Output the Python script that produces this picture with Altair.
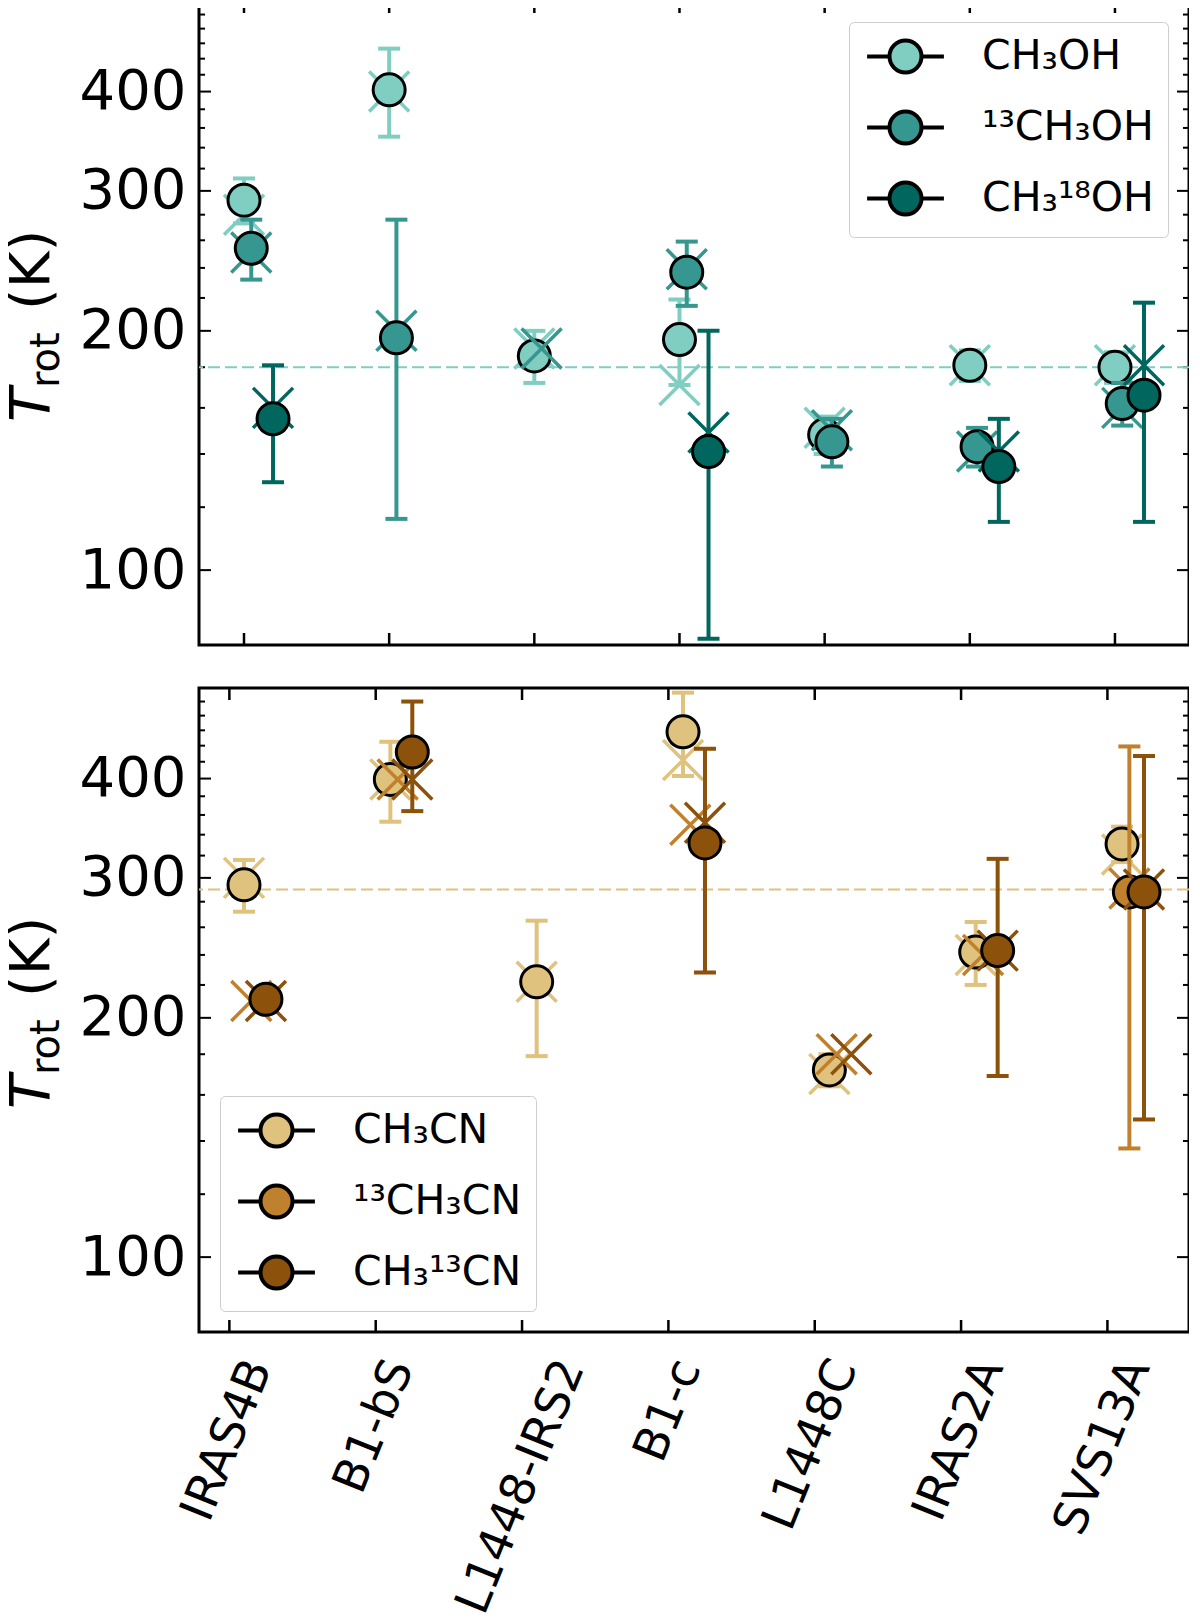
import altair as alt
import pandas as pd

sources = ["IRAS4B", "B1-bS", "L1448-IRS2", "B1-c", "L1448C", "IRAS2A", "SVS13A"]

# methanol isotopologues (top panel): T_rot, error, cross value
ch3oh_t = [292, 402, 186, 195, 148, 181, 180]
ch3oh_err = [19, 51, 14, 24, 8, 8, 8]
ch3oh_cross = [280, 400, 190, 171, 151, 181, 181]
c13h3oh_t = [254, 196, None, 237, 145, 143, 162]
c13h3oh_err = [22, 80, None, 22, 10, 8, 10]
c13h3oh_cross = [251, 200, 190, 239, 150, 141, 160]
ch3o18h_t = [155, None, None, 141, None, 135, 166]
ch3o18h_err = [26, None, None, 59, None, 20, 51]
ch3o18h_cross = [160, None, None, 149, None, 141, 181]

# methyl cyanide isotopologues (bottom panel)
ch3cn_t = [294, 399, 222, 458, 172, 242, 331]
ch3cn_err = [22, 46, 43, 55, 8, 22, 17]
ch3cn_cross = [300, 399, 222, 422, 170, 240, 321]
c13h3cn_t = [None, None, None, None, None, None, 288]
c13h3cn_err = [None, None, None, None, None, None, 151]
c13h3cn_cross = [210, 399, None, 350, 180, 240, 291]
ch3c13n_t = [211, 432, None, 332, None, 243, 288]
ch3c13n_err = [6, 68, None, 104, None, 74, 139]
ch3c13n_cross = [210, 399, None, 352, 180, 243, 290]

meoh_names = ["CH₃OH", "¹³CH₃OH", "CH₃¹⁸OH"]
meoh_colors = ["#80cdc1", "#35978f", "#01665e"]
meoh_shift = [0.0, 0.05, 0.2]
meoh_avg = 180

mecn_names = ["CH₃CN", "¹³CH₃CN", "CH₃¹³CN"]
mecn_colors = ["#dfc27d", "#bf812d", "#8c510a"]
mecn_shift = [0.1, 0.15, 0.25]
mecn_avg = 290

major_ticks = [100, 200, 300, 400]
minor_ticks = [120, 140, 160, 180, 220, 240, 260, 280, 320, 340, 360,
               380, 420, 440, 460, 480, 500]

W, H = 990, 644
FONT = "DejaVu Sans"
CROSS = "M-1,-1L1,1M-1,1L1,-1"
LEG_SYMBOL = "M-2.4,0L-1,0M1,0L2.4,0M-1,0A1,1,0,1,0,1,0A1,1,0,1,0,-1,0Z"


def panel(names, colors, shift, t, err, cross, avg, xdom, legend_orient, labels):
    rows = []
    for k, name in enumerate(names):
        for i, src in enumerate(sources):
            T, e = t[k][i], err[k][i]
            rows.append(dict(species=name, src=src, xp=i + shift[k],
                             T=T, lo=None if T is None else T - e,
                             hi=None if T is None else T + e,
                             cross=cross[k][i]))
    df = pd.DataFrame(rows)

    xs = alt.Scale(domain=xdom, nice=False, zero=False)
    ys = alt.Scale(type="log", domain=[80.5, 520], nice=False)
    yaxis = alt.Axis(values=major_ticks, ticks=False, tickSize=0, domain=False,
                     grid=False, labelFont=FONT, labelFontSize=56,
                     labelPadding=13, labelColor="black", title=None, format="d",
                     labelOverlap=False)

    def Y(field):
        return alt.Y(field, type="quantitative", scale=ys, axis=yaxis)

    xp = alt.X("xp:Q", scale=xs, axis=None)

    leg = alt.Legend(title=None, orient=legend_orient, offset=21, padding=14,
                     rowPadding=22, symbolOffset=22, symbolType=LEG_SYMBOL,
                     symbolSize=1024, symbolStrokeColor="black",
                     symbolStrokeWidth=4, symbolOpacity=1, labelFont=FONT,
                     labelFontSize=41, labelOffset=56, labelLimit=0,
                     fillColor="rgba(255,255,255,0.8)", strokeColor="#cccccc",
                     cornerRadius=5)
    color = alt.Color("species:N", scale=alt.Scale(domain=names, range=colors),
                      legend=leg)

    major = pd.DataFrame({"v": major_ticks})
    minor = pd.DataFrame({"v": minor_ticks})
    xt = pd.DataFrame({"i": list(range(len(sources)))})
    one = pd.DataFrame({"a": [0]})

    layers = [
        alt.Chart(major).mark_rule(color="black", strokeWidth=2).encode(
            y=Y("v"), x=alt.value(0), x2=alt.value(12)),
        alt.Chart(major).mark_rule(color="black", strokeWidth=2).encode(
            y=Y("v"), x=alt.value(W - 12), x2=alt.value(W)),
        alt.Chart(minor).mark_rule(color="black", strokeWidth=2).encode(
            y=Y("v"), x=alt.value(0), x2=alt.value(6)),
        alt.Chart(minor).mark_rule(color="black", strokeWidth=2).encode(
            y=Y("v"), x=alt.value(W - 6), x2=alt.value(W)),
        alt.Chart(xt).mark_rule(color="black", strokeWidth=2.5).encode(
            x=alt.X("i:Q", scale=xs, axis=None), y=alt.value(0), y2=alt.value(12)),
        alt.Chart(xt).mark_rule(color="black", strokeWidth=2.5).encode(
            x=alt.X("i:Q", scale=xs, axis=None), y=alt.value(H - 12), y2=alt.value(H)),
        alt.Chart(pd.DataFrame({"v": [avg]})).mark_rule(
            color=colors[0], strokeWidth=2, strokeDash=[12, 5]).encode(y=Y("v")),
    ]

    for k, name in enumerate(names):
        base = alt.Chart(df).transform_filter(alt.datum.species == name)
        layers += [
            base.mark_point(shape=CROSS, size=1600, filled=False, strokeWidth=3.5,
                            opacity=1, color=colors[k]).encode(x=xp, y=Y("cross")),
            base.mark_rule(color=colors[k], strokeWidth=4).encode(
                x=xp, y=Y("lo"), y2="hi:Q"),
            base.mark_tick(orient="horizontal", size=22, thickness=4,
                           color=colors[k], opacity=1).encode(x=xp, y=Y("lo")),
            base.mark_tick(orient="horizontal", size=22, thickness=4,
                           color=colors[k], opacity=1).encode(x=xp, y=Y("hi")),
            base.mark_point(shape="circle", filled=True, size=1024, stroke="black",
                            strokeWidth=3, opacity=1).encode(
                x=xp, y=Y("T"), color=color),
        ]

    # y-axis title: T_rot (K)
    layers += [
        alt.Chart(one).mark_text(text="T", font=FONT, fontSize=56, fontStyle="italic",
                                 angle=270, align="left", baseline="alphabetic",
                                 color="black").encode(
            x=alt.value(-150), y=alt.value(H / 2 + 99)),
        alt.Chart(one).mark_text(text="rot", font=FONT, fontSize=40, angle=270,
                                 align="left", baseline="alphabetic",
                                 color="black").encode(
            x=alt.value(-140), y=alt.value(H / 2 + 65)),
        alt.Chart(one).mark_text(text="(K)", font=FONT, fontSize=56, angle=270,
                                 align="left", baseline="alphabetic",
                                 color="black").encode(
            x=alt.value(-150), y=alt.value(H / 2 - 13)),
    ]

    if labels:
        lab = pd.DataFrame({"i": list(range(len(sources))), "name": sources})
        layers.append(
            alt.Chart(lab).transform_calculate(
                lx="datum.i + length(datum.name) * 0.034"
            ).mark_text(font=FONT, fontSize=47, angle=292, align="right",
                        baseline="middle", color="black").encode(
                x=alt.X("lx:Q", scale=xs, axis=None), y=alt.value(H + 30),
                text="name:N"))

    return alt.layer(*layers).properties(width=W, height=H)


top = panel(meoh_names, meoh_colors, meoh_shift,
            [ch3oh_t, c13h3oh_t, ch3o18h_t],
            [ch3oh_err, c13h3oh_err, ch3o18h_err],
            [ch3oh_cross, c13h3oh_cross, ch3o18h_cross],
            meoh_avg, [-0.31, 6.51], "top-right", False)

bottom = panel(mecn_names, mecn_colors, mecn_shift,
               [ch3cn_t, c13h3cn_t, ch3c13n_t],
               [ch3cn_err, c13h3cn_err, ch3c13n_err],
               [ch3cn_cross, c13h3cn_cross, ch3c13n_cross],
               mecn_avg, [-0.2075, 6.5575], "bottom-left", True)

chart = alt.vconcat(top, bottom, spacing=37,
                    padding={"left": -6, "top": -10, "right": -3, "bottom": 0}).resolve_scale(
    color="independent", x="independent", y="independent"
).configure_view(stroke="black", strokeWidth=3)

chart.save("out.html", embed_options={"renderer": "svg", "actions": False})
